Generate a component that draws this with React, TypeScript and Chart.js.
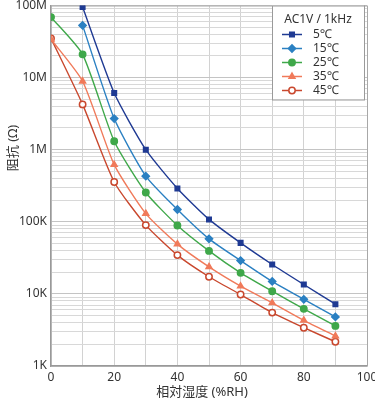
import React, { useEffect, useRef } from 'react';
import { Chart, registerables } from 'chart.js';
import { drawPoint } from 'chart.js/helpers';

Chart.register(...registerables);

const humidity = [0, 10, 20, 30, 40, 50, 60, 70, 80, 90];
const seriesLabels = ['5℃', '15℃', '25℃', '35℃', '45℃'];
const r5 = [null, 95e6, 6.1e6, 1.0e6, 290e3, 108e3, 51e3, 25.6e3, 13.5e3, 7.2e3];
const r15 = [null, 53e6, 2.7e6, 430e3, 148e3, 58e3, 29e3, 14.9e3, 8.4e3, 4.8e3];
const r25 = [69e6, 21e6, 1.31e6, 255e3, 89e3, 39.5e3, 19.6e3, 10.9e3, 6.2e3, 3.6e3];
const r35 = [34e6, 8.9e6, 620e3, 130e3, 49e3, 23.7e3, 12.8e3, 7.5e3, 4.3e3, 2.6e3];
const r45 = [35e6, 4.25e6, 357e3, 90e3, 34.5e3, 17.3e3, 9.8e3, 5.5e3, 3.4e3, 2.17e3];
const seriesValues = [r5, r15, r25, r35, r45];

const xTickValues = [0, 20, 40, 60, 80, 100];
const yDecades = [1e3, 1e4, 1e5, 1e6, 1e7, 1e8];
const yTickLabels = ['1K', '10K', '100K', '1M', '10M', '100M'];
const legendTitle = 'AC1V / 1kHz';
const xTitle = '相対湿度 (%RH)';
const yTitle = '阻抗 (Ω)';

const colors = ['#1f3a93', '#2b80c2', '#3fa84a', '#f07a5a', '#c9482e'];
const pointStyles = ['rect', 'rectRot', 'circle', 'triangle', 'circle'];
const pointRadii = [3.2, 3.6, 3.2, 3.4, 3.2];
const pointFills = ['#1f3a93', '#2b80c2', '#3fa84a', '#f07a5a', '#ffffff'];

const FONT = "'Noto Sans', 'Noto Sans CJK JP', sans-serif";

const decorPlugin = {
  id: 'decor',
  beforeDatasetsDraw(chart: any) {
    const { ctx, chartArea } = chart;
    ctx.save();
    ctx.strokeStyle = '#a8a8a8';
    ctx.lineWidth = 1;
    ctx.beginPath();
    ctx.moveTo(chartArea.left, chartArea.top + 0.5);
    ctx.lineTo(chartArea.right + 0.5, chartArea.top + 0.5);
    ctx.lineTo(chartArea.right + 0.5, chartArea.bottom);
    ctx.stroke();
    ctx.restore();
  },
  afterDraw(chart: any) {
    const { ctx, chartArea } = chart;
    ctx.save();
    // axis titles
    ctx.fillStyle = '#333';
    ctx.font = `13px ${FONT}`;
    ctx.textAlign = 'center';
    ctx.textBaseline = 'middle';
    ctx.fillText(xTitle, (chartArea.left + chartArea.right) / 2 - 7, chartArea.bottom + 26);
    ctx.save();
    ctx.translate(13, 148);
    ctx.rotate(-Math.PI / 2);
    ctx.fillText(yTitle, 0, 0);
    ctx.restore();

    // legend
    const bw = 92, bh = 94;
    const bx = chartArea.right - 3 - bw;
    const by = chartArea.top;
    ctx.fillStyle = '#ffffff';
    ctx.fillRect(bx, by, bw, bh);
    ctx.strokeStyle = '#9a9a9a';
    ctx.lineWidth = 1;
    ctx.strokeRect(bx + 0.5, by + 0.5, bw, bh);
    ctx.fillStyle = '#333';
    ctx.font = `12px ${FONT}`;
    ctx.textAlign = 'center';
    ctx.fillText(legendTitle, bx + bw / 2, by + 14);
    chart.data.datasets.forEach((ds: any, i: number) => {
      const y = by + 29 + i * 14;
      ctx.strokeStyle = ds.borderColor;
      ctx.lineWidth = 1.5;
      ctx.beginPath();
      ctx.moveTo(bx + 10, y);
      ctx.lineTo(bx + 30, y);
      ctx.stroke();
      ctx.fillStyle = ds.pointBackgroundColor;
      ctx.strokeStyle = ds.borderColor;
      drawPoint(ctx, { pointStyle: ds.pointStyle, radius: ds.pointRadius, rotation: 0, borderWidth: 1.5 }, bx + 20, y);
      ctx.fillStyle = '#333';
      ctx.textAlign = 'left';
      ctx.fillText(ds.label, bx + 41, y);
    });
    ctx.restore();
  },
};

export default function App() {
  const ref = useRef<HTMLCanvasElement | null>(null);
  useEffect(() => {
    document.body.style.margin = '0';
    const canvas = ref.current;
    if (!canvas) return;
    const datasets = seriesLabels.map((label, i) => ({
      label,
      data: humidity
        .map((h, j) => ({ x: h, y: seriesValues[i][j] }))
        .filter((p) => p.y !== null),
      borderColor: colors[i],
      backgroundColor: pointFills[i],
      pointBackgroundColor: pointFills[i],
      pointBorderColor: colors[i],
      pointStyle: pointStyles[i],
      pointRadius: pointRadii[i],
      pointBorderWidth: 1.5,
      borderWidth: 1.4,
      tension: 0.2,
    }));
    const chart = new Chart(canvas, {
      type: 'line',
      data: { datasets } as any,
      options: {
        animation: false,
        responsive: false,
        devicePixelRatio: 1,
        layout: { padding: { top: 5, right: 8, left: 0, bottom: 0 } },
        plugins: { legend: { display: false }, tooltip: { enabled: false } },
        scales: {
          x: {
            type: 'linear',
            min: 0,
            max: 100,
            afterBuildTicks(scale: any) {
              const t: any[] = [];
              for (let v = 0; v <= 100; v += 10) t.push({ value: v });
              scale.ticks = t;
            },
            ticks: {
              autoSkip: false,
              maxRotation: 0,
              padding: 4,
              color: '#333',
              font: { family: FONT, size: 12 },
              callback: (v: any) => (xTickValues.includes(Number(v)) ? String(v) : ''),
            },
            grid: { color: '#d2d2d2', drawTicks: false, lineWidth: 1 },
            border: { color: '#999', width: 1.5 },
            afterFit(s: any) {
              s.height = 34;
              s.paddingLeft = 0; s.paddingRight = 0; s.paddingTop = 0; s.paddingBottom = 0;
            },
          },
          y: {
            type: 'logarithmic',
            min: 1e3,
            max: 1e8,
            afterBuildTicks(scale: any) {
              const t: any[] = [];
              yDecades.forEach((d, k) => {
                if (k === yDecades.length - 1) { t.push({ value: d, major: true }); return; }
                for (let m = 1; m <= 9; m++) t.push({ value: d * m, major: m === 1 });
              });
              scale.ticks = t;
            },
            ticks: {
              autoSkip: false,
              padding: 4,
              color: '#333',
              font: { family: FONT, size: 12 },
              callback: (v: any) => {
                const idx = yDecades.findIndex((d) => Math.abs(d - Number(v)) < d * 1e-6);
                return idx >= 0 ? yTickLabels[idx] : '';
              },
            },
            grid: {
              color: (c: any) => (c.tick && c.tick.major ? '#c4c4c4' : '#d8d8d8'),
              drawTicks: false,
              lineWidth: 1,
            },
            border: { color: '#999', width: 1.5 },
            afterFit(s: any) {
              s.width = 51;
              s.paddingLeft = 0; s.paddingRight = 0; s.paddingTop = 0; s.paddingBottom = 0;
            },
          },
        },
      } as any,
      plugins: [decorPlugin],
    });
    return () => chart.destroy();
  }, []);
  return (
    <div style={{ width: 375, height: 400 }}>
      <canvas ref={ref} width={375} height={400} style={{ display: 'block' }} />
    </div>
  );
}
